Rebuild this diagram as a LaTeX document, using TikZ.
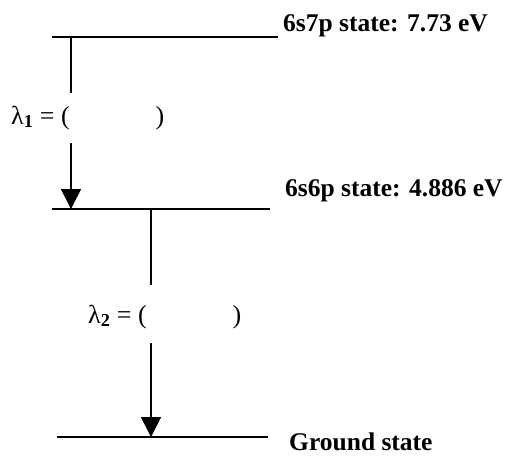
\documentclass[tikz,border=0pt]{standalone}
\usepackage{fontspec}
\setmainfont{Liberation Serif}
\usetikzlibrary{arrows.meta}
\begin{document}
\begin{tikzpicture}[x=1pt,y=-1pt,
  level/.style={line width=1.7pt},
  trans/.style={line width=1.7pt},
  head/.style={-{Triangle[length=20pt,width=20pt]}},
  statelbl/.style={anchor=base west,font=\bfseries\fontsize{25.5}{30}\selectfont,inner sep=0pt},
  wavelbl/.style={anchor=base west,font=\fontsize{26}{30}\selectfont,inner sep=0pt}]
  \useasboundingbox (0,0) rectangle (511,456);
  % energy levels
  \coordinate (l7a) at (52,37);  \coordinate (l7b) at (278,37);
  \coordinate (l6a) at (52,209); \coordinate (l6b) at (270,209);
  \coordinate (lga) at (57,437); \coordinate (lgb) at (268,437);
  \draw[level] (l7a) -- (l7b);
  \draw[level] (l6a) -- (l6b);
  \draw[level] (lga) -- (lgb);
  \node[statelbl] (s7) at (283,31) {6s7p state: 7.73 eV};
  \node[statelbl] (s6) at (285,196) {6s6p state: 4.886 eV};
  \node[statelbl] (sg) at (289,450) {Ground state};
  % first transition
  \coordinate (t1a) at (71,37);  \coordinate (t1b) at (71,93);
  \coordinate (t1c) at (71,143); \coordinate (t1d) at (71,209);
  \node[wavelbl] (w1) at (11,124) {λ\textsubscript{\textbf{1}} = (\hspace{86pt})};
  \draw[trans] (t1a) -- (t1b);
  \draw[trans,head] (t1c) -- (t1d);
  % second transition
  \coordinate (t2a) at (151,209); \coordinate (t2b) at (151,285);
  \coordinate (t2c) at (151,343); \coordinate (t2d) at (151,437);
  \node[wavelbl] (w2) at (88,323) {λ\textsubscript{\textbf{2}} = (\hspace{86pt})};
  \draw[trans] (t2a) -- (t2b);
  \draw[trans,head] (t2c) -- (t2d);
\end{tikzpicture}
\end{document}
